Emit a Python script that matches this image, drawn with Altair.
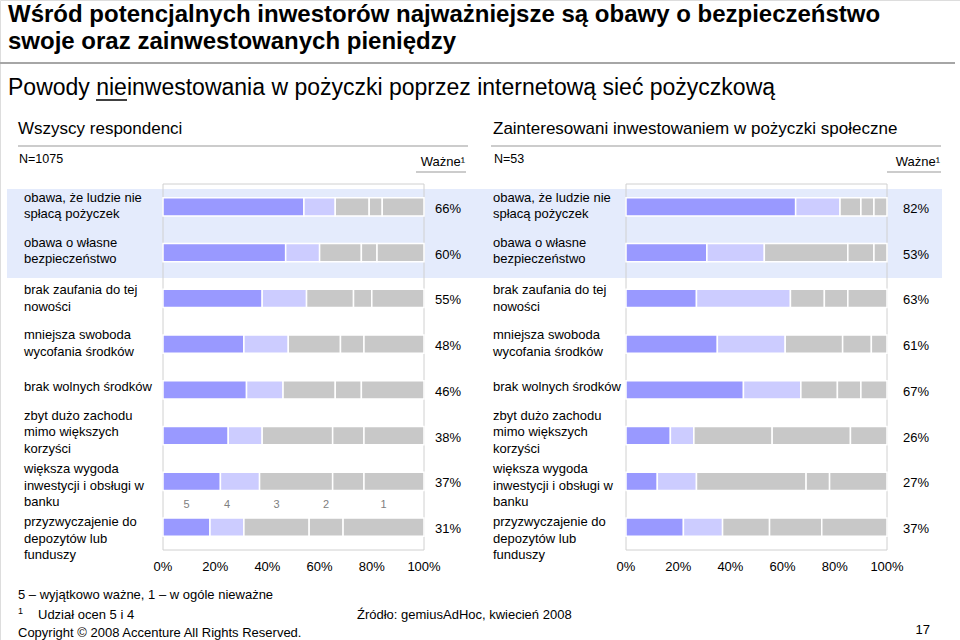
import altair as alt
import pandas as pd

# ---------------- data ----------------
row_labels = [
    "obawa, że ludzie nie\nspłacą pożyczek",
    "obawa o własne\nbezpieczeństwo",
    "brak zaufania do tej\nnowości",
    "mniejsza swoboda\nwycofania środków",
    "brak wolnych środków",
    "zbyt dużo zachodu\nmimo większych\nkorzyści",
    "większa wygoda\ninwestycji i obsługi w\nbanku",
    "przyzwyczajenie do\ndepozytów lub\nfunduszy",
]
scores = [5, 4, 3, 2, 1]

# Wszyscy respondenci (N=1075), share of each score in %
all_s5 = [54, 47, 38, 31, 32, 25, 22, 18]
all_s4 = [12, 13, 17, 17, 14, 13, 15, 13]
all_s3 = [13, 16, 18, 20, 20, 27, 28, 25]
all_s2 = [5, 6, 7, 9, 10, 12, 12, 13]
all_s1 = [16, 18, 20, 23, 24, 23, 23, 31]
all_important = [66, 60, 55, 48, 46, 38, 37, 31]

# Zainteresowani inwestowaniem (N=53)
int_s5 = [65, 31, 27, 35, 45, 17, 12, 22]
int_s4 = [17, 22, 36, 26, 22, 9, 15, 15]
int_s3 = [8, 32, 13, 22, 14, 30, 42, 18]
int_s2 = [5, 10, 9, 11, 9, 30, 9, 20]
int_s1 = [5, 5, 15, 6, 10, 14, 22, 25]
int_important = [82, 53, 63, 61, 67, 26, 27, 37]

tick_values = [0, 20, 40, 60, 80, 100]

# ---------------- tables ----------------
def long_table(cols):
    recs = []
    for s, vals in zip(scores, cols):
        for i, v in enumerate(vals):
            recs.append({"row": i, "score": s, "value": v})
    return pd.DataFrame(recs)

df_all = long_table([all_s5, all_s4, all_s3, all_s2, all_s1])
df_int = long_table([int_s5, int_s4, int_s3, int_s2, int_s1])
imp_all = pd.DataFrame({"row": list(range(8)), "imp": all_important})
imp_int = pd.DataFrame({"row": list(range(8)), "imp": int_important})
labels_df = pd.DataFrame({"row": list(range(8)), "label": row_labels})
ticks_df = pd.DataFrame({"t": tick_values})
frame_df = pd.DataFrame({"lo": [0], "hi": [100]})
one = pd.DataFrame({"a": [0]})

# ---------------- layout / style ----------------
FONT = "Liberation Sans"
y_scale = alt.Scale(domain=list(range(8)), range=[184, 550], paddingInner=0.6, paddingOuter=0.3)
color_scale = alt.Scale(domain=[5, 4, 3, 2, 1],
                        range=["#9999ff", "#ccccff", "#c8c8c8", "#c8c8c8", "#c8c8c8"])
# vertical shift of the first label line relative to the row centre
label_shift = [-9, -10, -8, -9, -3, -20, -12, -5]


def xs(rng):
    return alt.Scale(domain=[0, 100], range=rng)


def txt(s, x, y, size=13, bold=False, align="left", color="#000000"):
    return alt.Chart(one).mark_text(
        text=s, font=FONT, fontSize=size, fontWeight="bold" if bold else "normal",
        align=align, baseline="middle", color=color
    ).encode(x=alt.value(x), y=alt.value(y))


def hline(x1, x2, y, color="#999999", w=1.0):
    return alt.Chart(one).mark_rule(color=color, strokeWidth=w).encode(
        x=alt.value(x1), x2=alt.value(x2), y=alt.value(y))


def panel(df, imp, rng, label_x, pct_x, with_digits):
    sc = xs(rng)
    stacked = alt.Chart(df).transform_stack(
        stack="value", groupby=["row"], as_=["x0", "x1"],
        sort=[alt.SortField("score", order="descending")])
    bars = stacked.mark_bar(stroke="white", strokeWidth=1.5).encode(
        x=alt.X("x0:Q", scale=sc, axis=None),
        x2="x1:Q",
        y=alt.Y("row:O", scale=y_scale, axis=None),
        color=alt.Color("score:O", scale=color_scale, legend=None),
    )
    frame = alt.Chart(frame_df).mark_rect(fillOpacity=0, stroke="#d0d0d0", strokeWidth=1).encode(
        x=alt.X("lo:Q", scale=sc, axis=None), x2="hi:Q",
        y=alt.value(184), y2=alt.value(550))
    ticks = alt.Chart(ticks_df).transform_calculate(lbl="datum.t + '%'").mark_text(
        font=FONT, fontSize=13, baseline="middle", align="center").encode(
        x=alt.X("t:Q", scale=sc, axis=None), y=alt.value(567), text="lbl:N")
    pct = alt.Chart(imp).transform_calculate(lbl="datum.imp + '%'").mark_text(
        font=FONT, fontSize=13, baseline="middle", align="center", dy=2).encode(
        x=alt.value(pct_x), y=alt.Y("row:O", scale=y_scale, axis=None), text="lbl:N")
    layers = [frame, bars, ticks, pct]
    for r, sh in enumerate(label_shift):
        layers.append(
            alt.Chart(labels_df).transform_filter(f"datum.row == {r}").mark_text(
                font=FONT, fontSize=13, align="left", baseline="middle", lineBreak="\n",
                lineHeight=16.5, dy=sh).encode(
                x=alt.value(label_x), y=alt.Y("row:O", scale=y_scale, axis=None),
                text="label:N"))
    if with_digits:
        digits = stacked.transform_filter("datum.row == 7").transform_calculate(
            mid="(datum.x0 + datum.x1) / 2").mark_text(
            font=FONT, fontSize=11, color="#808080", baseline="middle", align="center",
            dy=-22).encode(
            x=alt.X("mid:Q", scale=sc, axis=None),
            y=alt.Y("row:O", scale=y_scale, axis=None),
            text="score:N")
        layers.append(digits)
    return layers


band = alt.Chart(one).mark_rect(color="#e4ebfc").encode(
    x=alt.value(7), x2=alt.value(942), y=alt.value(189), y2=alt.value(278))

layers = [band]
layers += [
    txt("Wśród potencjalnych inwestorów najważniejsze są obawy o bezpieczeństwo", 8, 15, 24, True),
    txt("swoje oraz zainwestowanych pieniędzy", 8, 42, 24, True),
    hline(0, 955, 63, "#a6a6a6", 2),
    txt("Powody nieinwestowania w pożyczki poprzez internetową sieć pożyczkową", 8, 88, 23),
    hline(96, 127, 100, "#000000", 1.5),
    txt("Wszyscy respondenci", 18, 129, 17),
    txt("Zainteresowani inwestowaniem w pożyczki społeczne", 493, 129, 17),
    hline(18, 468, 146),
    hline(491, 941, 146),
    txt("N=1075", 19, 159, 12.5),
    txt("N=53", 494, 159, 12.5),
    txt("Ważne¹", 465, 162, 13, align="right"),
    txt("Ważne¹", 940, 162, 13, align="right"),
    hline(416, 466, 172),
    hline(887, 941, 172),
]
layers += panel(df_all, imp_all, [163, 424], 24, 448, True)
layers += panel(df_int, imp_int, [626, 887], 493, 916, False)
layers += [
    txt("5 – wyjątkowo ważne, 1 – w ogóle nieważne", 18, 595, 13),
    txt("1", 18, 611, 9),
    txt("Udział ocen 5 i 4", 38, 615, 13),
    txt("Źródło: gemiusAdHoc, kwiecień 2008", 357, 615, 13),
    txt("Copyright © 2008 Accenture All Rights Reserved.", 18, 633, 13),
    txt("17", 930, 630, 13, align="right"),
]

chart = alt.layer(*layers).resolve_scale(x="independent").properties(
    width=960, height=640, padding=0, autosize="none"
).configure_view(strokeWidth=0).configure(background="white")

chart.save("out.html", embed_options={"renderer": "svg", "actions": False})
